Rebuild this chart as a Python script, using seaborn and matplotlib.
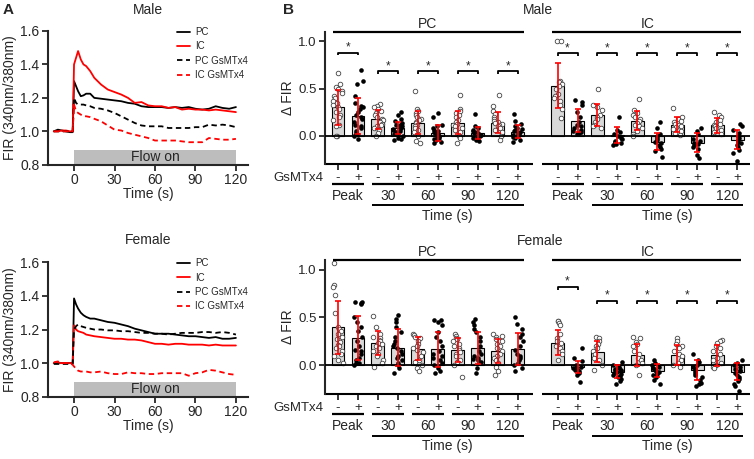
import numpy as np
import pandas as pd
import matplotlib
matplotlib.use("Agg")
import matplotlib.pyplot as plt
import matplotlib.transforms as mtransforms
import seaborn as sns

# ---------------- Panel A data (time courses) ----------------
time_s = [-15, -12, -9, -6, -3, -1, 0, 1.5, 3, 5, 7, 9, 12, 15, 20, 25, 30, 35, 40, 45,
          50, 55, 60, 65, 70, 75, 80, 85, 90, 95, 100, 105, 110, 115, 120]

male_pc = [1.0, 1.01, 1.005, 1.0, 0.995, 0.995, 1.30, 1.27, 1.24, 1.21, 1.215, 1.225, 1.225, 1.20,
           1.195, 1.19, 1.185, 1.18, 1.17, 1.165, 1.15, 1.145, 1.145, 1.145, 1.14, 1.145, 1.14,
           1.145, 1.135, 1.13, 1.135, 1.15, 1.14, 1.135, 1.145]
male_ic = [1.0, 1.0, 1.005, 1.005, 1.0, 1.0, 1.40, 1.44, 1.48, 1.43, 1.40, 1.39, 1.36, 1.32,
           1.28, 1.25, 1.235, 1.22, 1.20, 1.17, 1.175, 1.155, 1.15, 1.15, 1.14, 1.145, 1.13,
           1.135, 1.13, 1.13, 1.125, 1.13, 1.125, 1.12, 1.115]
male_pc_gs = [1.0, 1.0, 1.0, 1.0, 1.0, 1.0, 1.20, 1.17, 1.16, 1.16, 1.16, 1.155, 1.15, 1.14,
              1.135, 1.125, 1.11, 1.09, 1.07, 1.05, 1.035, 1.03, 1.03, 1.03, 1.02, 1.02, 1.02,
              1.02, 1.025, 1.025, 1.04, 1.035, 1.04, 1.035, 1.025]
male_ic_gs = [1.0, 1.0, 1.0, 1.0, 1.0, 1.0, 1.16, 1.12, 1.11, 1.10, 1.09, 1.09, 1.085, 1.075,
              1.06, 1.035, 1.01, 1.005, 0.99, 0.98, 0.97, 0.96, 0.945, 0.945, 0.945, 0.945, 0.94,
              0.935, 0.935, 0.935, 0.96, 0.955, 0.95, 0.95, 0.955]

female_pc = [1.0, 1.0, 1.0, 1.0, 1.0, 1.0, 1.385, 1.35, 1.325, 1.30, 1.285, 1.275, 1.265, 1.265,
             1.255, 1.245, 1.24, 1.23, 1.22, 1.205, 1.195, 1.185, 1.175, 1.175, 1.175, 1.17, 1.165,
             1.16, 1.16, 1.155, 1.15, 1.155, 1.145, 1.145, 1.15]
female_ic = [1.0, 1.0, 1.0, 1.0, 1.0, 1.0, 1.225, 1.20, 1.19, 1.185, 1.18, 1.17, 1.165, 1.16,
             1.155, 1.15, 1.145, 1.145, 1.14, 1.14, 1.135, 1.125, 1.115, 1.115, 1.11, 1.115, 1.115,
             1.11, 1.11, 1.11, 1.105, 1.11, 1.105, 1.105, 1.105]
female_pc_gs = [0.995, 0.995, 0.995, 0.995, 0.995, 0.995, 1.20, 1.22, 1.23, 1.22, 1.215, 1.21, 1.205,
                1.20, 1.20, 1.195, 1.195, 1.19, 1.19, 1.185, 1.18, 1.18, 1.175, 1.175, 1.17, 1.175,
                1.18, 1.18, 1.18, 1.185, 1.185, 1.18, 1.185, 1.18, 1.17]
female_ic_gs = [1.005, 1.01, 1.0, 1.0, 1.0, 0.99, 0.98, 0.965, 0.955, 0.95, 0.95, 0.95, 0.945, 0.945,
                0.95, 0.94, 0.935, 0.935, 0.945, 0.94, 0.94, 0.935, 0.935, 0.94, 0.94, 0.94, 0.94,
                0.925, 0.94, 0.945, 0.96, 0.955, 0.945, 0.935, 0.93]

series_labels = ["PC", "IC", "PC GsMTx4", "IC GsMTx4"]
time_ticks = [0, 30, 60, 90, 120]
fir_ticks = [0.8, 1.0, 1.2, 1.4, 1.6]

# ---------------- Panel B data ----------------
timepoints = ["Peak", "30", "60", "90", "120"]
gsmtx_signs = ["-", "+"]

# order: Peak-, Peak+, 30-, 30+, 60-, 60+, 90-, 90+, 120-, 120+
male_pc_mean = [0.30, 0.21, 0.175, 0.085, 0.14, 0.03, 0.14, 0.03, 0.14, 0.045]
male_pc_sd = [0.18, 0.19, 0.10, 0.065, 0.12, 0.08, 0.12, 0.065, 0.11, 0.07]
male_ic_mean = [0.53, 0.16, 0.22, 0.01, 0.16, -0.06, 0.12, -0.07, 0.11, -0.04]
male_ic_sd = [0.24, 0.12, 0.12, 0.085, 0.10, 0.09, 0.075, 0.10, 0.08, 0.10]

female_pc_mean = [0.395, 0.29, 0.235, 0.185, 0.175, 0.165, 0.155, 0.18, 0.15, 0.17]
female_pc_sd = [0.275, 0.23, 0.125, 0.19, 0.125, 0.185, 0.125, 0.17, 0.125, 0.17]
female_ic_mean = [0.235, -0.02, 0.14, -0.065, 0.11, -0.055, 0.105, -0.05, 0.105, -0.065]
female_ic_sd = [0.13, 0.06, 0.11, 0.065, 0.115, 0.07, 0.105, 0.10, 0.11, 0.09]

male_pc_points = [
    [0.66, 0.55, 0.52, 0.50, 0.47, 0.45, 0.42, 0.40, 0.37, 0.35, 0.33, 0.30, 0.28, 0.25, 0.22, 0.20, 0.17, 0.12, 0.10, 0.0, 0.0],
    [0.70, 0.58, 0.55, 0.42, 0.35, 0.32, 0.30, 0.28, 0.25, 0.22, 0.20, 0.18, 0.15, 0.12, 0.10, 0.08, 0.05, 0.03, 0.02, -0.03, 0.0],
    [0.34, 0.32, 0.30, 0.28, 0.26, 0.24, 0.22, 0.20, 0.18, 0.17, 0.15, 0.13, 0.12, 0.10, 0.08, 0.06, 0.03, 0.0],
    [0.25, 0.22, 0.18, 0.16, 0.14, 0.12, 0.11, 0.10, 0.09, 0.08, 0.07, 0.06, 0.05, 0.04, 0.03, 0.02, 0.0, -0.02, -0.03, -0.04],
    [0.47, 0.28, 0.26, 0.24, 0.22, 0.20, 0.18, 0.17, 0.15, 0.14, 0.12, 0.10, 0.08, 0.06, 0.04, 0.0, -0.05, -0.08],
    [0.24, 0.20, 0.12, 0.10, 0.08, 0.06, 0.05, 0.04, 0.03, 0.02, 0.01, 0.0, 0.0, -0.01, -0.02, -0.03, -0.04, -0.06, -0.07],
    [0.43, 0.28, 0.26, 0.24, 0.22, 0.20, 0.17, 0.15, 0.13, 0.12, 0.10, 0.08, 0.06, 0.04, 0.0, -0.02, -0.07],
    [0.23, 0.10, 0.08, 0.06, 0.05, 0.04, 0.03, 0.02, 0.01, 0.0, 0.0, -0.01, -0.02, -0.03, -0.04, -0.05],
    [0.43, 0.32, 0.26, 0.23, 0.20, 0.18, 0.16, 0.15, 0.14, 0.13, 0.12, 0.10, 0.08, 0.06, 0.04, 0.0, -0.04],
    [0.23, 0.16, 0.13, 0.10, 0.08, 0.07, 0.06, 0.05, 0.04, 0.03, 0.02, 0.01, 0.0, -0.01, -0.02, -0.04, -0.06],
]
male_ic_points = [
    [1.0, 1.0, 0.58, 0.57, 0.55, 0.53, 0.50, 0.44, 0.42, 0.40, 0.37, 0.33, 0.28, 0.19],
    [0.38, 0.36, 0.33, 0.25, 0.20, 0.15, 0.12, 0.10, 0.08, 0.06, 0.05, 0.04, 0.03, 0.02],
    [0.49, 0.33, 0.30, 0.27, 0.22, 0.20, 0.18, 0.15, 0.12, 0.10, 0.08],
    [0.20, 0.06, 0.04, 0.02, 0.0, -0.02, -0.03, -0.05, -0.06, -0.08, -0.09, -0.10],
    [0.39, 0.27, 0.24, 0.22, 0.20, 0.18, 0.16, 0.14, 0.12, 0.10, 0.08, 0.05, 0.02, 0.0],
    [0.15, 0.08, 0.02, 0.0, -0.02, -0.04, -0.06, -0.08, -0.10, -0.12, -0.14, -0.16, -0.22],
    [0.29, 0.20, 0.18, 0.16, 0.15, 0.13, 0.12, 0.10, 0.09, 0.07, 0.05, 0.03, 0.01],
    [0.08, 0.05, 0.02, -0.03, -0.05, -0.07, -0.09, -0.10, -0.12, -0.14, -0.20, -0.23],
    [0.25, 0.22, 0.20, 0.17, 0.15, 0.13, 0.12, 0.10, 0.08, 0.06, 0.04, 0.02],
    [0.13, 0.10, 0.06, 0.03, 0.0, -0.02, -0.04, -0.06, -0.08, -0.10, -0.12, -0.15, -0.18, -0.27],
]
female_pc_points = [
    [1.07, 0.84, 0.82, 0.73, 0.55, 0.40, 0.38, 0.36, 0.33, 0.30, 0.27, 0.24, 0.21, 0.20, 0.18, 0.15, 0.12, 0.10, 0.05, 0.02],
    [0.66, 0.66, 0.65, 0.64, 0.50, 0.45, 0.40, 0.36, 0.30, 0.25, 0.20, 0.16, 0.15, 0.12, 0.08, 0.05, 0.02, 0.02, 0.0],
    [0.52, 0.40, 0.33, 0.30, 0.28, 0.26, 0.25, 0.23, 0.22, 0.20, 0.18, 0.15, 0.12, 0.10, 0.06, 0.02, -0.02],
    [0.53, 0.48, 0.45, 0.40, 0.35, 0.30, 0.25, 0.22, 0.20, 0.18, 0.15, 0.12, 0.10, 0.08, 0.05, 0.02, 0.0, -0.03, -0.08],
    [0.33, 0.32, 0.30, 0.28, 0.25, 0.22, 0.20, 0.18, 0.16, 0.14, 0.10, 0.06, 0.03, 0.0, -0.03, -0.06],
    [0.47, 0.47, 0.45, 0.42, 0.35, 0.30, 0.25, 0.20, 0.15, 0.12, 0.10, 0.08, 0.05, 0.02, 0.0, -0.03, -0.06, -0.08],
    [0.33, 0.31, 0.29, 0.27, 0.25, 0.22, 0.20, 0.18, 0.16, 0.14, 0.12, 0.10, 0.06, 0.03, 0.0, -0.12],
    [0.48, 0.45, 0.42, 0.38, 0.35, 0.30, 0.25, 0.20, 0.15, 0.12, 0.10, 0.08, 0.07, 0.05, 0.03, -0.03, -0.08],
    [0.33, 0.31, 0.30, 0.27, 0.25, 0.22, 0.20, 0.18, 0.15, 0.12, 0.10, 0.08, 0.05, 0.02, -0.02, -0.06, -0.10],
    [0.50, 0.43, 0.38, 0.33, 0.30, 0.25, 0.20, 0.16, 0.12, 0.10, 0.08, 0.05, 0.02, 0.0, -0.03, -0.06],
]
female_ic_points = [
    [0.46, 0.46, 0.44, 0.42, 0.33, 0.28, 0.25, 0.23, 0.20, 0.18, 0.15, 0.12, 0.06],
    [0.18, 0.08, 0.04, 0.0, -0.02, -0.03, -0.04, -0.05, -0.06, -0.08, -0.10, -0.17],
    [0.30, 0.28, 0.25, 0.22, 0.20, 0.18, 0.15, 0.12, 0.08, 0.05, 0.0, -0.05],
    [0.03, 0.0, -0.02, -0.02, -0.03, -0.04, -0.05, -0.05, -0.06, -0.07, -0.08, -0.09, -0.10, -0.11, -0.12, -0.14, -0.16, -0.20],
    [0.30, 0.28, 0.24, 0.22, 0.20, 0.15, 0.12, 0.08, 0.05, 0.02, 0.0, -0.10],
    [0.05, 0.02, 0.0, -0.02, -0.03, -0.04, -0.05, -0.06, -0.07, -0.08, -0.09, -0.10, -0.12, -0.15, -0.20],
    [0.28, 0.25, 0.22, 0.20, 0.18, 0.15, 0.12, 0.10, 0.05, 0.02, 0.0, -0.02],
    [0.12, 0.05, 0.03, 0.0, -0.02, -0.04, -0.06, -0.08, -0.10, -0.12, -0.15, -0.18, -0.20, -0.22],
    [0.26, 0.25, 0.23, 0.20, 0.18, 0.15, 0.12, 0.08, 0.05, 0.02, 0.0, -0.02, -0.03],
    [0.05, 0.02, 0.0, -0.02, -0.04, -0.05, -0.06, -0.08, -0.10, -0.12, -0.14, -0.16, -0.20, -0.22, -0.27],
]

male_bracket_heights = [0.88, 0.68, 0.68, 0.68, 0.68, 0.87, 0.87, 0.87, 0.87, 0.87]
female_bracket_heights = [None, None, None, None, None, 0.82, 0.67, 0.67, 0.67, 0.67]

# ---------------- Style ----------------
sns.set_style("ticks")
plt.rcParams["font.family"] = ["Liberation Sans", "DejaVu Sans"]
plt.rcParams["axes.linewidth"] = 1.5

np.random.seed(3)  # deterministic horizontal jitter of the dots only

fig = plt.figure(figsize=(7.54, 4.59), dpi=100)

axA1 = fig.add_axes([0.0633, 0.641, 0.2657, 0.2915])
axA2 = fig.add_axes([0.0633, 0.1357, 0.2657, 0.2928])
axB1 = fig.add_axes([0.431, 0.642, 0.564, 0.289])
axB2 = fig.add_axes([0.431, 0.1416, 0.564, 0.2920])


def draw_A(ax, curves):
    styles = [("black", "-"), ("red", "-"), ("black", (0, (3, 2))), ("red", (0, (3, 2)))]
    for lab, y, (c, ls) in zip(series_labels, curves, styles):
        sns.lineplot(x=time_s, y=y, ax=ax, color=c, linestyle=ls, linewidth=1.3, label=lab)
    ax.fill_between([0, 120], 0.8, 0.89, color="#bdbdbd", linewidth=0, zorder=0)
    ax.text(60, 0.846, "Flow on", ha="center", va="center", fontsize=10)
    ax.set_xlim(-19.5, 129)
    ax.set_ylim(0.8, 1.6)
    ax.set_xticks(time_ticks)
    ax.set_yticks(fir_ticks)
    ax.set_yticklabels([f"{v:.1f}" for v in fir_ticks])
    ax.tick_params(labelsize=10, length=4, width=1.3, pad=2)
    ax.set_xlabel("Time (s)", fontsize=10, labelpad=0)
    ax.set_ylabel("FIR (340nm/380nm)", fontsize=10, labelpad=2)
    sns.despine(ax=ax)
    ax.legend(loc="upper left", bbox_to_anchor=(0.645, 1.03), frameon=False, fontsize=7,
              handlelength=1.3, handletextpad=0.6, labelspacing=0.45, borderaxespad=0,
              borderpad=0)


draw_A(axA1, [male_pc, male_ic, male_pc_gs, male_ic_gs])
draw_A(axA2, [female_pc, female_ic, female_pc_gs, female_ic_gs])

positions = list(range(0, 10)) + list(range(11, 21))
order = [str(i) for i in range(21)]


def draw_B(ax, pc_mean, pc_sd, ic_mean, ic_sd, pc_pts, ic_pts, brackets):
    means = pc_mean + ic_mean
    sds = pc_sd + ic_sd
    pts = pc_pts + ic_pts
    bars = pd.DataFrame({"pos": [str(p) for p in positions], "mean": means})
    sns.barplot(data=bars, x="pos", y="mean", order=order, color="#d9d9d9", saturation=1,
                edgecolor="black", linewidth=0.8, width=0.64, errorbar=None, ax=ax, zorder=1)
    rows = []
    for k, (p, vals) in enumerate(zip(positions, pts)):
        kind = "open" if k % 2 == 0 else "filled"
        for v in vals:
            rows.append({"pos": str(p), "val": v, "kind": kind})
    pdf = pd.DataFrame(rows)
    sns.stripplot(data=pdf[pdf.kind == "open"], x="pos", y="val", order=order, size=3.3,
                  jitter=0.25, color="white", edgecolor="#444444", linewidth=0.6, ax=ax,
                  zorder=2)
    sns.stripplot(data=pdf[pdf.kind == "filled"], x="pos", y="val", order=order, size=3.3,
                  jitter=0.25, color="black", linewidth=0, ax=ax, zorder=2)
    ax.errorbar(positions, means, yerr=sds, fmt="none", ecolor="red", elinewidth=1.2,
                capsize=2.5, capthick=1.2, zorder=4)
    ax.axhline(0, color="black", lw=1.3, zorder=3)
    ax.set_xlim(-0.65, 20.65)
    ax.set_ylim(-0.3, 1.1)
    ax.set_yticks([0, 0.5, 1.0])
    ax.set_yticklabels(["0.0", "0.5", "1.0"])
    ax.set_xticks(positions)
    ax.set_xticklabels([""] * len(positions))
    ax.tick_params(axis="y", labelsize=9.5, length=4, width=1.3, pad=2)
    ax.tick_params(axis="x", length=4, width=1.3)
    ax.set_xlabel("")
    ax.set_ylabel("Δ FIR", fontsize=10, labelpad=2)
    sns.despine(ax=ax)
    ax.spines["bottom"].set_visible(False)
    tr = mtransforms.blended_transform_factory(ax.transData, ax.transAxes)
    kw = dict(transform=tr, color="black", clip_on=False, solid_capstyle="butt")
    ax.plot([-0.65, 9.75], [0, 0], lw=1.5, **kw)
    ax.plot([10.2, 20.65], [0, 0], lw=1.5, **kw)
    # group header lines
    for x1, x2, name, xc in [(-0.25, 9.3, "PC", 4.5), (10.7, 20.2, "IC", 15.5)]:
        ax.plot([x1, x2], [1.0, 1.0], lw=1.6, **kw)
        ax.text(xc, 1.06, name, transform=tr, ha="center", va="center", fontsize=10)
    # signs row
    ax.text(-0.75, -0.103, "GsMTx4", transform=tr, ha="right", va="center", fontsize=9.5)
    for k, p in enumerate(positions):
        ax.text(p, -0.103, gsmtx_signs[k % 2], transform=tr, ha="center", va="center",
                fontsize=9.5)
    starts = positions[0::2]
    for k, p in enumerate(starts):
        ax.plot([p - 0.3, p + 1.3], [-0.148, -0.148], lw=1.6, **kw)
        ax.text(p + 0.5, -0.24, timepoints[k % 5], transform=tr, ha="center", va="center",
                fontsize=10)
    for x1, x2, xc in [(1.7, 9.3, 5.5), (12.7, 20.3, 16.5)]:
        ax.plot([x1, x2], [-0.31, -0.31], lw=1.4, **kw)
        ax.text(xc, -0.39, "Time (s)", transform=tr, ha="center", va="center", fontsize=10)
    # significance brackets
    for k, p in enumerate(starts):
        h = brackets[k]
        if h is None:
            continue
        ax.plot([p, p, p + 1, p + 1], [h - 0.03, h, h, h - 0.03], color="black", lw=1.3,
                solid_capstyle="butt", zorder=5)
        ax.text(p + 0.5, h + 0.055, "*", ha="center", va="center", fontsize=8.5)


draw_B(axB1, male_pc_mean, male_pc_sd, male_ic_mean, male_ic_sd, male_pc_points,
       male_ic_points, male_bracket_heights)
draw_B(axB2, female_pc_mean, female_pc_sd, female_ic_mean, female_ic_sd, female_pc_points,
       female_ic_points, female_bracket_heights)

# titles and panel letters
fig.text(148 / 754, 1 - 10 / 459, "Male", ha="center", va="center", fontsize=10)
fig.text(148 / 754, 1 - 240 / 459, "Female", ha="center", va="center", fontsize=10)
fig.text(538 / 754, 1 - 10 / 459, "Male", ha="center", va="center", fontsize=10)
fig.text(540 / 754, 1 - 241 / 459, "Female", ha="center", va="center", fontsize=10)
fig.text(8 / 754, 1 - 10 / 459, "A", ha="center", va="center", fontsize=11, fontweight="bold")
fig.text(288 / 754, 1 - 10 / 459, "B", ha="center", va="center", fontsize=11, fontweight="bold")

fig.savefig("out.png", dpi=100)
